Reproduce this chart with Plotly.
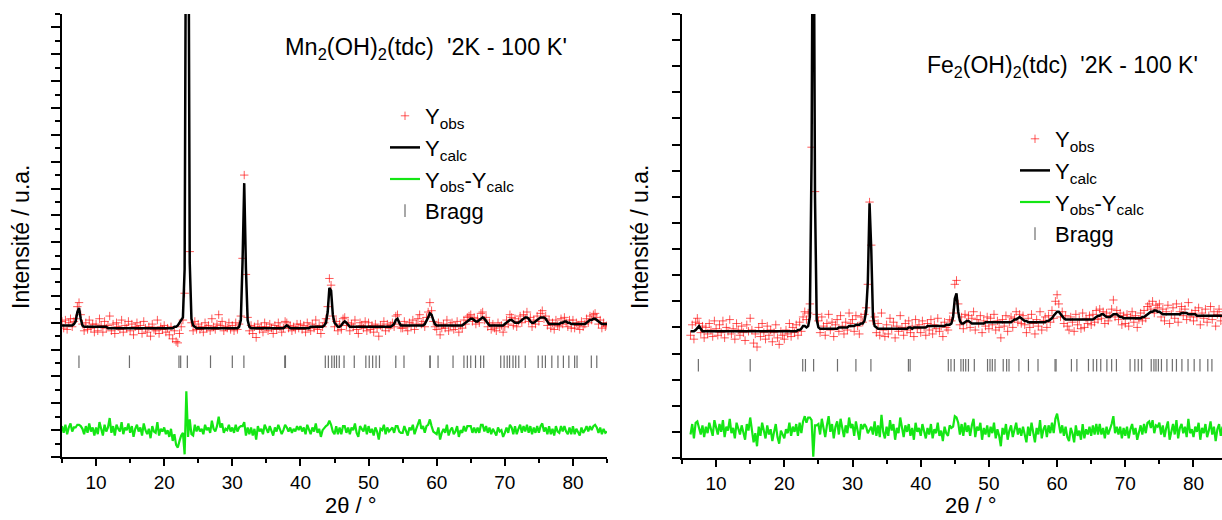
import numpy as np
import plotly.graph_objects as go

STEP = 0.25  # degrees 2theta between measured points

# ---------------- Left panel: Mn2(OH)2(tdc) ----------------
mn_x_start = 5.0
mn_obs = [
    1, -4, 2, -5, 0, 3, -3, 1, 3, 12, 15, 6, -1, -6, 0, -5, 2, -4, -1, -7,
    -1, -6, 3, -2, -7, 1, -4, -2, 5, -6, -1, -8, 0, -3, -5, 2, -7, -2, -4, 1,
    -6, -1, -9, -3, 0, -5, -2, -8, 1, -4, -7, -3, -10, -1, -5, -6, 2, -8, -3, -5,
    -2, -7, -4, -9, -3, -12, -6, -14, -15, -8, -3, 2, 22, 419, 415, 53, 0, -6, 1, -5,
    -1, -5, -3, -7, 0, -4, -2, -6, 3, -3, -5, -1, 6, -2, 1, -6, -3, -4, 0, -5,
    -2, -6, 0, -5, -1, 5, 48, 110, 36, 4, -6, -2, -8, -3, -11, -1, -5, -3, -7, 0,
    -3, -6, -1, -4, -8, -2, -5, 0, -3, -7, -4, 1, 0, -4, -2, -6, -3, -5, -1, -4,
    -1, -5, -2, -7, 0, -3, -6, -1, -4, 2, -5, -2, -8, -3, 0, 3, 12, 33, 28, 5,
    -3, 1, -6, -1, -5, 3, 4, -2, 0, -6, -1, -3, 2, -5, -8, 0, -2, -4, 1, -6,
    0, -5, -2, -7, -1, -4, -10, -2, -3, 1, -6, -1, -4, -2, 0, -3, 5, 6, -1, -4,
    -4, 1, -3, -6, 0, -2, 2, -5, -1, 3, 6, -1, 1, -3, 4, 8, 15, 9, 1, -3,
    -5, 0, -9, -4, -1, -4, 2, -6, -2, 0, -5, -3, 1, -7, -2, -4, 2, -1, 4, 5,
    6, 1, 4, -1, 3, 0, 7, 8, 2, 4, -3, 0, -5, -1, -4, -6, 0, -3, -2, -7,
    -3, 2, -1, 6, 4, -2, 3, -3, 1, 5, 0, 6, 3, 8, 1, 4, -3, 2, -1, 5,
    1, 7, 9, 3, 5, -2, 2, -4, 0, -5, 2, -2, -3, 3, -1, 4, 0, -3, 2, -4,
    2, -4, 0, -2, -5, 1, -3, -1, 3, 0, 5, 2, 6, 7, 4, -1, 2, -4, 0, -3,
    -2,
]
mn_calc = [
    -2, -2, -2, -2, -2, -2, -2, -1, 1, 8, 11, 3, -2, -3, -3, -3, -3, -3, -3, -3,
    -3, -3, -3, -3, -3, -3, -3, -4, -4, -4, -4, -4, -4, -4, -4, -4, -4, -4, -4, -4,
    -4, -4, -4, -4, -4, -4, -4, -4, -4, -4, -4, -4, -4, -4, -4, -4, -4, -4, -4, -4,
    -4, -4, -4, -4, -4, -4, -3, -3, -2, 0, 1, 4, 40, 390, 420, 45, 3, -2, -3, -4,
    -4, -4, -4, -4, -4, -4, -4, -4, -4, -4, -4, -4, -4, -4, -4, -4, -4, -4, -4, -4,
    -4, -4, -4, -4, -3, 2, 45, 104, 40, 2, -3, -4, -4, -4, -4, -4, -4, -4, -4, -4,
    -4, -4, -4, -4, -4, -4, -4, -4, -4, -4, -4, -3, -2, -3, -4, -4, -4, -4, -4, -4,
    -4, -4, -4, -4, -4, -4, -3, -3, -3, -3, -3, -3, -3, -3, -2, 0, 8, 26, 24, 6,
    0, -2, -3, -3, -2, 0, 1, 0, -2, -3, -3, -3, -3, -3, -3, -3, -3, -3, -3, -3,
    -3, -3, -3, -3, -3, -3, -3, -3, -3, -3, -3, -3, -3, -3, -2, -1, 2, 3, 0, -2,
    -2, -2, -2, -2, -2, -2, -2, -2, -2, -2, -2, -2, -2, -1, 1, 4, 7, 6, 2, -1,
    -2, -2, -2, -2, -2, -2, -2, -2, -2, -2, -2, -2, -2, -2, -2, -2, -1, 0, 1, 2,
    3, 3, 2, 1, 1, 2, 3, 4, 3, 1, -1, -2, -2, -2, -2, -2, -2, -2, -2, -2,
    -1, 0, 1, 2, 2, 1, 0, 0, 0, 1, 2, 3, 4, 4, 3, 1, 0, 0, 1, 2,
    3, 4, 4, 4, 3, 1, -1, -1, -1, -1, -1, -1, -1, 0, 0, 1, 1, 0, 0, -1,
    -1, -1, -1, -1, -1, -1, -1, -1, 0, 1, 2, 2, 3, 3, 2, 1, 0, -1, -1, -1,
    -1,
]
mn_bragg = [7.49, 14.9, 22.17, 22.42, 23.4, 26.8, 30.0, 31.7, 37.7, 37.8,
            43.65, 44.1, 44.6, 44.97, 45.3, 45.7, 46.4, 47.9, 49.6, 50.1, 50.6,
            51.1, 51.6, 54.0, 55.2, 59.0, 59.05, 60.2, 62.4, 64.0, 64.5, 65.0,
            65.7, 66.45, 66.9, 69.4, 69.9, 70.35, 70.7, 71.2, 71.6, 72.05, 73.0,
            74.9, 75.5, 75.96, 76.9, 77.8, 78.6, 79.4, 80.25, 80.6, 82.7, 83.5]

# ---------------- Right panel: Fe2(OH)2(tdc) ----------------
fe_x_start = 6.25
fe_obs = [
    -6, 2, -9, 4, 7, 3, -4, 1, -8, 0, -5, 3, -2, -7, 5,
    -1, -6, 2, -4, 5, -8, 0, -3, 6, -5, -1, -9, 3, -2, -6, 1, -4, -10, 2, -3,
    7, -2, -12, -5, -15, 0, -7, 3, -4, -9, 1, -6, -2, -11, -4, 2, -8, -13, -3, -6,
    -9, -2, -5, 3, -7, 0, -4, 2, -6, 4, -3, 8, 12, 6, 11, 18, 138, 400, 104, 10,
    5, -4, 8, 1, -6, 3, 10, -2, 4, -7, 2, 6, -3, 9, 1, -5, 4, -2, 11, 3,
    6, -3, 9, 1, -5, 8, 4, 10, 15, 33, 96, 63, 5, 8, -4, 3, -6, 11, -2, -7,
    2, -5, 7, -1, 4, -8, 1, -3, 9, 0, -6, 3, -2, 5, -4, 1, -7, 6, -1, 2,
    -4, 5, 0, -6, 3, -2, 6, -5, 2, -1, 7, -3, 1, -7, 4, 0, -2, 6, 5, 11,
    33, 36, 18, 2, 8, -1, 10, 4, 9, 0, 7, 12, -2, 6, 3, 9, -4, 5, 1, 8,
    -1, 7, 2, 10, -2, 5, 0, -8, 6, 1, 9, -3, 4, 8, 0, 7, 12, 4, 10, 3,
    9, 2, -4, 7, 0, 10, 3, -5, 6, 1, 12, -2, 5, 8, 0, 9, 4, 13, 7, 20,
    25, 18, 8, 12, 3, 9, 1, -2, 8, 4, -3, 10, 2, 6, -1, 11, 0, 7, 3, 9,
    2, 10, 4, 13, 6, 14, 7, 12, 3, 11, 5, 9, 14, 21, 8, 13, 6, 11, 2, 9,
    3, 10, 1, 8, 12, 4, 9, 0, 6, 11, 5, 13, 7, 16, 18, 14, 20, 11, 17, 15,
    18, 8, 14, 5, 12, 17, 3, 10, 15, 7, 18, 4, 12, 16, 9, 14, 6, 19, 8, 11,
    5, 13, 8, 15, 2, 11, 7, 14, 4, 9, 16, 6, 12, 1, 10, 14, 5, 12, 8, 3,
    9,
]
fe_calc = [
    -3, -3, -3, -2, 0, 1, -1, -3, -3, -3, -3, -3, -3, -3, -3,
    -3, -3, -3, -3, -3, -3, -3, -3, -3, -3, -3, -3, -3, -3, -3, -3, -3, -3, -3, -3,
    -3, -3, -3, -3, -3, -3, -3, -3, -3, -3, -3, -3, -3, -3, -3, -3, -3, -3, -3, -3,
    -3, -3, -3, -3, -3, -3, -3, -3, -2, -2, -1, 1, 1, 0, 1, 8, 130, 420, 100, 6,
    0, -1, -1, -1, -1, -1, -1, -1, -1, -1, -1, -1, 0, 0, 0, 0, 0, 0, 1, 1,
    1, 1, 2, 2, 2, 3, 3, 5, 12, 35, 95, 60, 8, 1, 0, -1, -1, -1, -1, -1,
    -1, -1, -1, -1, -1, -1, -1, -1, -1, -1, -1, -1, -1, 0, 0, -1, 0, 0, 0, 0,
    0, 0, 0, 0, 1, 1, 1, 1, 1, 1, 1, 1, 1, 1, 1, 2, 2, 2, 3, 8,
    22, 26, 12, 5, 3, 3, 4, 5, 5, 4, 3, 3, 3, 3, 3, 3, 3, 3, 4, 4,
    4, 4, 4, 4, 4, 4, 4, 4, 4, 4, 4, 4, 4, 4, 5, 6, 6, 7, 8, 7,
    6, 5, 5, 4, 4, 4, 4, 4, 4, 4, 4, 4, 4, 4, 5, 5, 6, 7, 9, 11,
    12, 12, 10, 8, 7, 6, 6, 6, 6, 6, 6, 6, 6, 6, 6, 6, 6, 6, 6, 6,
    6, 6, 7, 8, 9, 9, 10, 10, 9, 8, 8, 8, 9, 10, 10, 10, 9, 8, 8, 7,
    7, 7, 7, 7, 7, 7, 7, 7, 7, 7, 8, 8, 9, 10, 11, 12, 12, 13, 13, 12,
    12, 11, 10, 10, 10, 10, 10, 10, 10, 10, 10, 10, 10, 11, 11, 11, 11, 10, 10, 10,
    10, 10, 9, 9, 9, 9, 9, 9, 9, 9, 9, 9, 9, 9, 9, 9, 9, 9, 9, 9,
    9,
]
fe_bragg = [7.4, 15.0, 22.7, 23.1, 24.3, 27.8, 30.5, 32.7, 38.2, 38.45,
            44.05, 44.44, 44.93, 45.9, 46.25, 46.6, 47.0, 47.86, 49.8, 50.16,
            50.5, 50.9, 52.1, 52.6, 52.95, 54.4, 55.8, 57.2, 59.7, 59.85, 62.1,
            62.9, 64.6, 65.3, 65.8, 66.4, 67.3, 68.0, 68.7, 70.7, 71.4, 71.9,
            72.4, 73.8, 74.2, 74.5, 74.85, 75.3, 76.1, 76.9, 77.5, 78.3, 79.2,
            80.1, 80.95, 82.1, 82.7]

legend_names = ["Y<sub>obs</sub>", "Y<sub>calc</sub>",
                "Y<sub>obs</sub>-Y<sub>calc</sub>", "Bragg"]

# vertical placement of the Bragg row and of the difference curve (offsets)
BRAGG_LEVEL = -29
DIFF_OFFSET_MN = -80
DIFF_OFFSET_FE = -79

W, H = 1222, 520
FONT = "Liberation Sans, Arial, sans-serif"
RED = "rgba(255,0,0,0.65)"
GREEN = "#14e614"
GREY = "#6e6e6e"


def add_panel(fig, x_start, obs, calc, bragg, diff_offset, xa, ya, legend):
    obs = np.array(obs, dtype=float)
    calc = np.array(calc, dtype=float)
    x = x_start + STEP * np.arange(len(obs))
    diff = obs - calc + diff_offset
    fig.add_trace(go.Scatter(
        x=x, y=obs, mode="markers", name=legend_names[0],
        marker=dict(symbol="cross-thin", size=6, color=RED,
                    line=dict(width=1, color=RED)),
        xaxis=xa, yaxis=ya, legend=legend))
    fig.add_trace(go.Scatter(
        x=x, y=calc, mode="lines", name=legend_names[1],
        line=dict(color="black", width=2.5),
        xaxis=xa, yaxis=ya, legend=legend))
    fig.add_trace(go.Scatter(
        x=x, y=diff, mode="lines", name=legend_names[2],
        line=dict(color=GREEN, width=2.2),
        xaxis=xa, yaxis=ya, legend=legend))
    fig.add_trace(go.Scatter(
        x=bragg, y=[BRAGG_LEVEL] * len(bragg), mode="markers",
        name=legend_names[3],
        marker=dict(symbol="line-ns", size=9, color=GREY,
                    line=dict(width=1.2, color=GREY)),
        xaxis=xa, yaxis=ya, legend=legend))


fig = go.Figure()
add_panel(fig, mn_x_start, mn_obs, mn_calc, mn_bragg, DIFF_OFFSET_MN,
          "x", "y", "legend")
add_panel(fig, fe_x_start, fe_obs, fe_calc, fe_bragg, DIFF_OFFSET_FE,
          "x2", "y2", "legend2")

xcommon = dict(showline=True, linecolor="black", linewidth=2, ticks="outside",
               ticklen=7, tickwidth=2, tickcolor="black", tick0=0, dtick=10,
               minor=dict(dtick=5, ticklen=4, tickwidth=2, ticks="outside",
                          tickcolor="black"),
               showgrid=False, zeroline=False,
               tickfont=dict(size=19, color="black", family=FONT))
ycommon = dict(showline=True, linecolor="black", linewidth=2, ticks="outside",
               tickwidth=2, tickcolor="black", tick0=0, dtick=20,
               showgrid=False, zeroline=False, showticklabels=False)

legcommon = dict(font=dict(size=22, family=FONT, color="black"),
                 bgcolor="rgba(0,0,0,0)", xanchor="left", yanchor="top",
                 tracegroupgap=0, itemclick=False)

fig.update_layout(
    width=W, height=H,
    margin=dict(l=0, r=0, t=0, b=0),
    paper_bgcolor="white", plot_bgcolor="white",
    font=dict(family=FONT, color="black"),
    xaxis=dict(domain=[62 / W, 607 / W], range=[5, 85], anchor="y", **xcommon),
    yaxis=dict(domain=[(H - 457) / H, (H - 14) / H], range=[-100, 230],
               anchor="x", ticklen=9,
               minor=dict(dtick=10, ticklen=5, tickwidth=2, ticks="outside",
                          tickcolor="black"),
               **ycommon),
    xaxis2=dict(domain=[682 / W, 1.0], range=[5, 84.18], anchor="y2",
                **xcommon),
    yaxis2=dict(domain=[(H - 458) / H, (H - 14) / H], range=[-100, 240],
                anchor="x2", ticklen=8, **ycommon),
    legend=dict(x=385 / W, y=1 - 95 / H, **legcommon),
    legend2=dict(x=1015 / W, y=1 - 118 / H, **legcommon),
    showlegend=True,
)

annots = [
    dict(text="Mn<sub>2</sub>(OH)<sub>2</sub>(tdc)\u00a0\u00a0'2K - 100 K'",
         x=283 / W, y=1 - 48 / H, xanchor="left", yanchor="middle",
         font=dict(size=23.5)),
    dict(text="Fe<sub>2</sub>(OH)<sub>2</sub>(tdc)\u00a0\u00a0'2K - 100 K'",
         x=925 / W, y=1 - 66 / H, xanchor="left", yanchor="middle",
         font=dict(size=23)),
    dict(text="Intensité / u.a.", x=21 / W, y=1 - 237 / H, textangle=-90,
         xanchor="center", yanchor="middle", font=dict(size=23)),
    dict(text="Intensité / u.a.", x=640 / W, y=1 - 237 / H, textangle=-90,
         xanchor="center", yanchor="middle", font=dict(size=23)),
    dict(text="2θ / °", x=351 / W, y=1 - 519 / H, xanchor="center",
         yanchor="bottom", font=dict(size=22), borderpad=0),
    dict(text="2θ / °", x=971 / W, y=1 - 519 / H, xanchor="center",
         yanchor="bottom", font=dict(size=22), borderpad=0),
]
for a in annots:
    fig.add_annotation(xref="paper", yref="paper", showarrow=False, **a)

fig.write_html("out.html",
               config={"displayModeBar": False},
               post_script="document.body.style.margin='0';")
